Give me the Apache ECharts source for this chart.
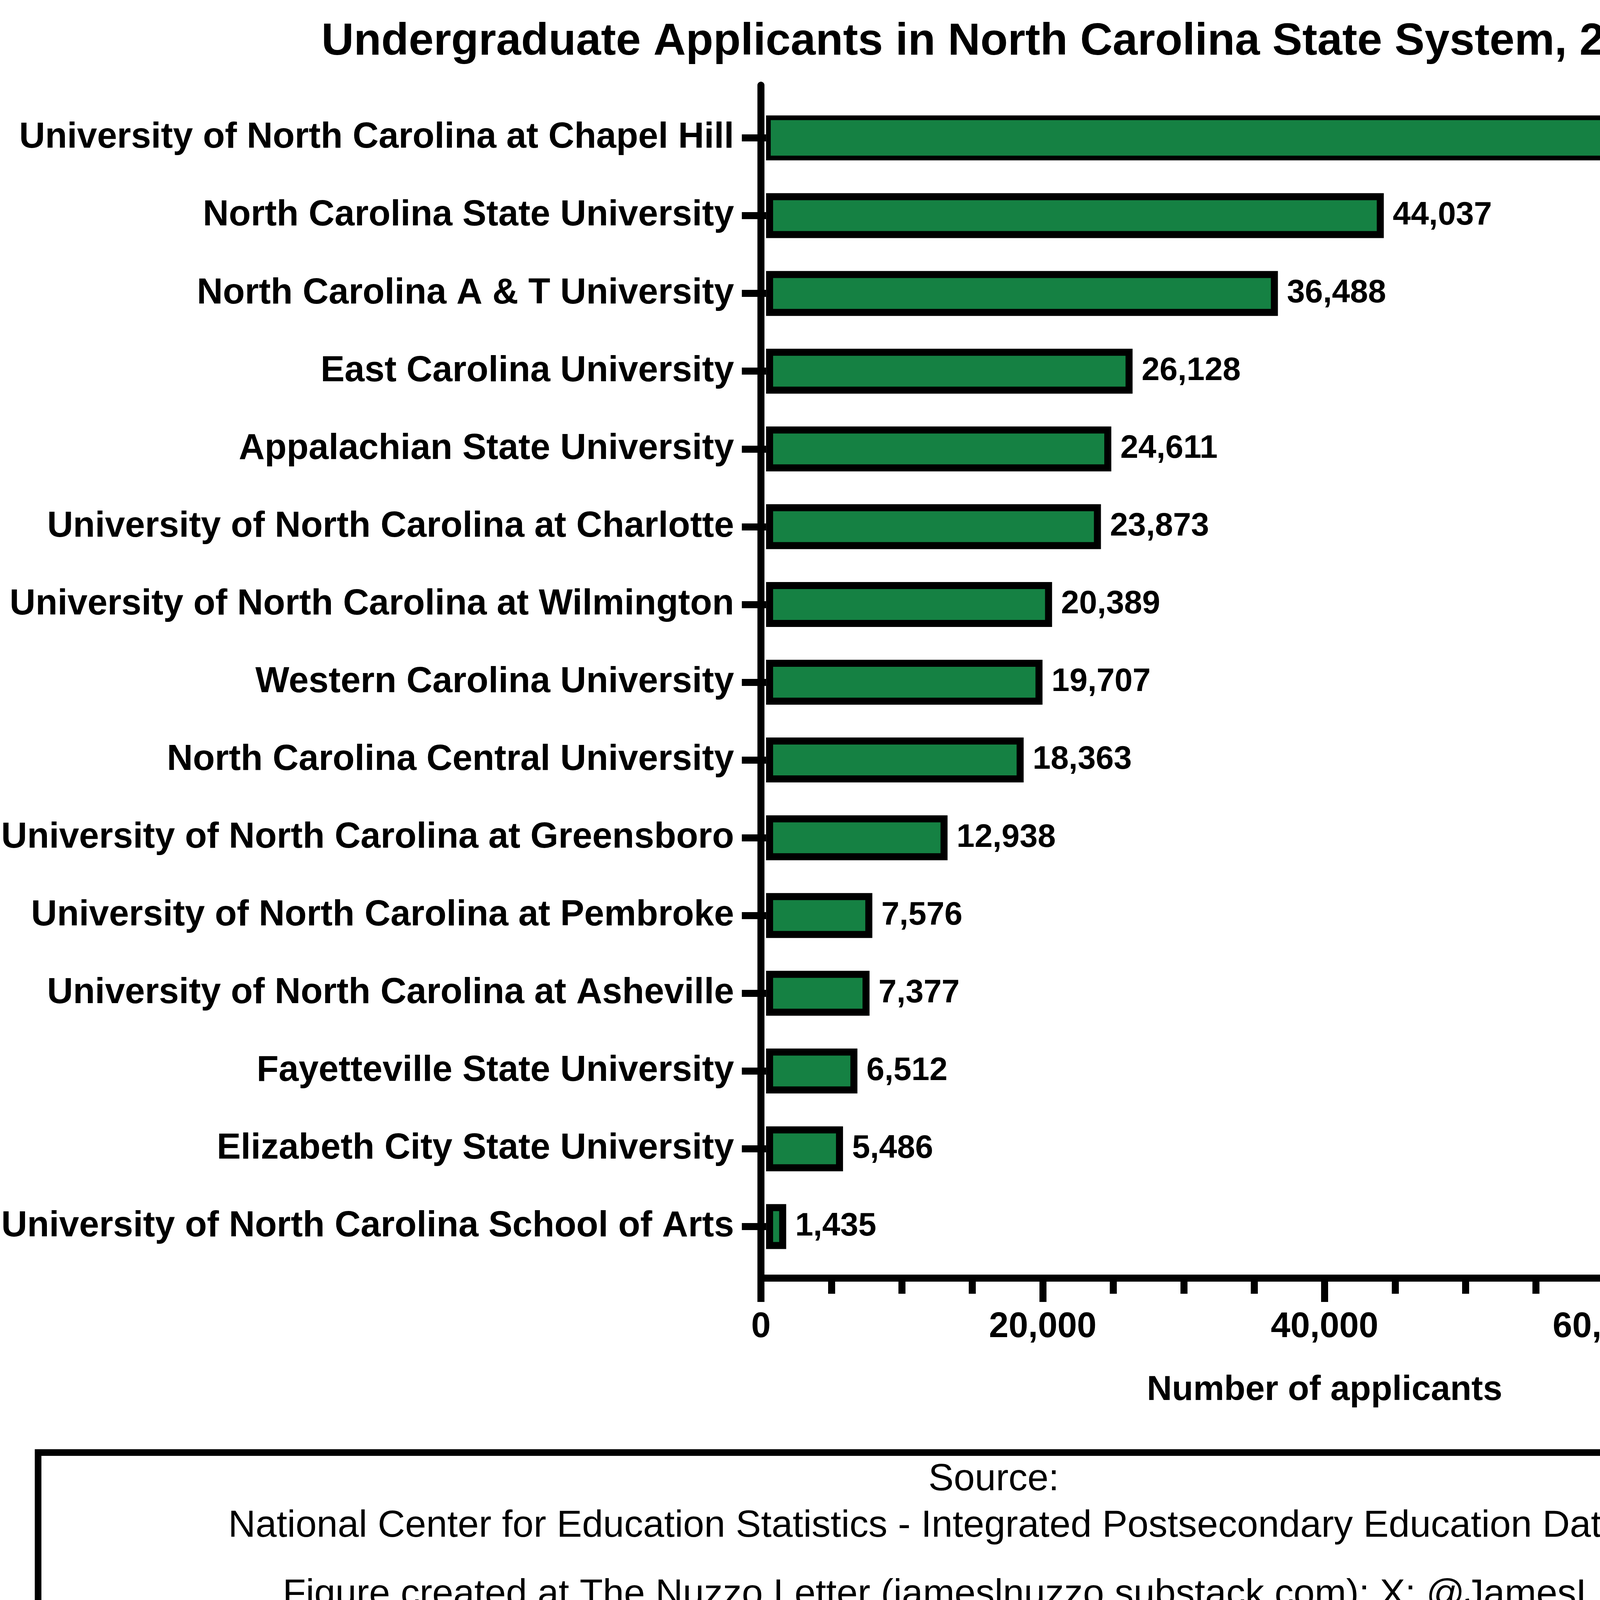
<!DOCTYPE html>
<html>
<head>
<meta charset="utf-8">
<script src="https://cdn.jsdelivr.net/npm/echarts@6/dist/echarts.min.js"></script>
<style>
  html, body { margin: 0; padding: 0; background: #ffffff; }
  #chart { width: 5059px; height: 4209px; }
</style>
</head>
<body>
<div id="chart"></div>
<script>
const titleText = 'Undergraduate Applicants in North Carolina State System, 2024';
const categories = [
  'University of North Carolina at Chapel Hill',
  'North Carolina State University',
  'North Carolina A & T University',
  'East Carolina University',
  'Appalachian State University',
  'University of North Carolina at Charlotte',
  'University of North Carolina at Wilmington',
  'Western Carolina University',
  'North Carolina Central University',
  'University of North Carolina at Greensboro',
  'University of North Carolina at Pembroke',
  'University of North Carolina at Asheville',
  'Fayetteville State University',
  'Elizabeth City State University',
  'University of North Carolina School of Arts'
];
const applicants = [66525, 44037, 36488, 26128, 24611, 23873, 20389, 19707, 18363, 12938, 7576, 7377, 6512, 5486, 1435];
const xAxisMin = 0;
const xAxisMax = 80000;
const xAxisInterval = 20000;
const xAxisName = 'Number of applicants';
const sourceLines = [
  'Source:',
  'National Center for Education Statistics - Integrated Postsecondary Education Data System',
  'Figure created at The Nuzzo Letter (jameslnuzzo.substack.com); X: @JamesLNuzzo'
];

const FONT = "'Liberation Sans', Arial, Helvetica, sans-serif";
const fmt = v => Number(v).toLocaleString('en-US');

const chart = echarts.init(document.getElementById('chart'), null, { renderer: 'canvas' });

const option = {
  backgroundColor: '#ffffff',
  animation: false,
  title: {
    text: titleText,
    left: 2561,
    top: 51,
    padding: 0,
    textAlign: 'center',
    textStyle: { fontFamily: FONT, fontSize: 115, fontWeight: 'bold', color: '#000000' }
  },
  grid: [
    { left: 1948, right: 225, top: 253.5, height: 2986, containLabel: false },
    { left: 1948, right: 225, top: 218, height: 3054, containLabel: false }
  ],
  xAxis: [
    { gridIndex: 0, type: 'value', min: xAxisMin, max: xAxisMax, show: false },
    {
      gridIndex: 1, type: 'value', min: xAxisMin, max: xAxisMax, interval: xAxisInterval,
      axisLine: { show: true, onZero: false, lineStyle: { color: '#000000', width: 18, cap: 'square' } },
      axisTick: { show: true, length: 61, lineStyle: { color: '#000000', width: 18 } },
      minorTick: { show: true, splitNumber: 4, length: 40, lineStyle: { color: '#000000', width: 18 } },
      splitLine: { show: false },
      minorSplitLine: { show: false },
      axisLabel: {
        show: true, margin: 81, fontFamily: FONT, fontSize: 90, fontWeight: 'bold', color: '#000000',
        formatter: v => fmt(v)
      },
      name: xAxisName,
      nameLocation: 'middle',
      nameGap: 243,
      nameTextStyle: { fontFamily: FONT, fontSize: 89, fontWeight: 'bold', color: '#000000' }
    }
  ],
  yAxis: [
    {
      gridIndex: 0, type: 'category', inverse: true, data: categories,
      axisLine: { show: false },
      axisTick: { show: true, alignWithLabel: true, length: 62, lineStyle: { color: '#000000', width: 18 } },
      axisLabel: { show: true, margin: 82, fontFamily: FONT, fontSize: 92, fontWeight: 'bold', color: '#000000' },
      splitLine: { show: false }
    },
    {
      gridIndex: 1, type: 'value', min: 0, max: 1,
      axisLine: { show: true, onZero: false, lineStyle: { color: '#000000', width: 18 } },
      axisTick: { show: false },
      axisLabel: { show: false },
      splitLine: { show: false }
    }
  ],
  series: [
    {
      type: 'bar',
      xAxisIndex: 0,
      yAxisIndex: 0,
      barWidth: 115,
      data: applicants.map((v, i) => i === 0 ? { value: v, itemStyle: { borderWidth: 12 } } : v),
      itemStyle: { color: '#158143', borderColor: '#000000', borderWidth: 18 },
      label: {
        show: true, position: 'right', distance: 23,
        fontFamily: FONT, fontSize: 83, fontWeight: 'bold', color: '#000000',
        formatter: p => fmt(p.value)
      }
    }
  ],
  graphic: [
    {
      type: 'rect',
      shape: { x: 97.5, y: 3718.5, width: 4893, height: 474 },
      style: { fill: 'none', stroke: '#000000', lineWidth: 17 },
      silent: true
    },
    {
      type: 'text', x: 2544, y: 3788,
      style: { text: sourceLines[0], textAlign: 'center', textVerticalAlign: 'middle',
               font: "97px 'Liberation Sans', Arial, Helvetica, sans-serif", fill: '#000000' }
    },
    {
      type: 'text', x: 2544, y: 3907,
      style: { text: sourceLines[1], textAlign: 'center', textVerticalAlign: 'middle',
               font: "97px 'Liberation Sans', Arial, Helvetica, sans-serif", fill: '#000000' }
    },
    {
      type: 'text', x: 2544, y: 4083,
      style: { text: sourceLines[2], textAlign: 'center', textVerticalAlign: 'middle',
               font: "97px 'Liberation Sans', Arial, Helvetica, sans-serif", fill: '#000000' }
    }
  ]
};

chart.setOption(option);
</script>
</body>
</html>
